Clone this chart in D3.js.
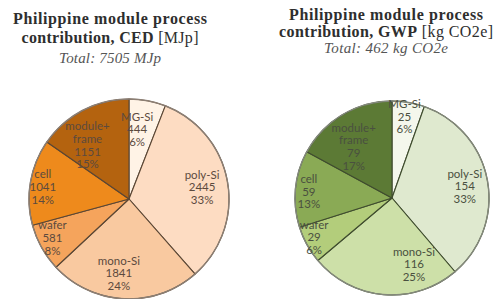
<!DOCTYPE html>
<html>
<head>
<meta charset="utf-8">
<script src="https://cdn.jsdelivr.net/npm/d3@7"></script>
<style>
  body { margin: 0; background: #fff; }
  svg { display: block; }
</style>
</head>
<body>
<svg id="canvas"></svg>
<script>
// process steps, clockwise from 12 o'clock
const processes = ["MG-Si", "poly-Si", "mono-Si", "wafer", "cell", "module+|frame"];

// cumulative energy demand [MJp]
const cedValues = [444, 2445, 1841, 581, 1041, 1151];
const cedShares = ["6%", "33%", "24%", "8%", "14%", "15%"];

// global warming potential [kg CO2e]
const gwpValues = [25, 154, 116, 29, 59, 79];
const gwpShares = ["6%", "33%", "25%", "6%", "13%", "17%"];

const width = 494;
const height = 299;

let canvas = d3.select("#canvas").attr("width", width).attr("height", height);

let charts = [
  {
    title: ["Philippine module process", "contribution, CED", " [MJp]"],
    total: "Total: 7505 MJp",
    titleX: 110, titleY: [24, 43, 63], titleW: [194, 177, 102],
    cx: 129, cy: 199, r: 100,
    values: cedValues, shares: cedShares,
    colors: ["#fff3e6", "#fddcc2", "#f9c9a0", "#f5a45c", "#ee8a1c", "#b4630f"],
    line: "#5a4634", rim: "#8c7f74", text: "#5c4a3e",
    // [radius fraction, angle nudge in degrees] for each label
    labelPos: [[0.70, -4], [0.74, 1], [0.75, 5], [0.86, 2], [0.87, -2], [0.68, -10]]
  },
  {
    title: ["Philippine module process", "contribution, GWP", " [kg CO2e]"],
    total: "Total: 462 kg CO2e",
    titleX: 386, titleY: [19.5, 36.5, 53], titleW: [194, 214, 124],
    cx: 392, cy: 198, r: 97,
    values: gwpValues, shares: gwpShares,
    colors: ["#f4f7ec", "#dfe9cf", "#cde0a8", "#b3cd7b", "#8aaa55", "#5c7a35"],
    line: "#3f4c2e", rim: "#84897c", text: "#4a5040",
    labelPos: [[0.85, -1], [0.76, 1.5], [0.72, -23], [0.90, 2], [0.86, -1], [0.66, -6]]
  }
];

let serif = "'Liberation Serif', 'DejaVu Serif', serif";

let drawPie = (c) => {
  let g = canvas.append("g").attr("transform", "translate(" + c.cx + "," + c.cy + ")");

  let pie = d3.pie().sort(null).value((d) => d);
  let slices = pie(c.values);
  let arc = d3.arc().innerRadius(0).outerRadius(c.r);

  g.selectAll("path.slice")
    .data(slices)
    .enter()
    .append("path")
    .attr("class", "slice")
    .attr("d", arc)
    .attr("fill", (d, i) => c.colors[i])
    .attr("stroke", c.line)
    .attr("stroke-width", 1.1)
    .attr("stroke-linejoin", "round");

  g.append("circle")
    .attr("r", c.r)
    .attr("fill", "none")
    .attr("stroke", c.rim)
    .attr("stroke-width", 1.4);

  let labels = g.selectAll("text.lab")
    .data(slices)
    .enter()
    .append("text")
    .attr("class", "lab")
    .attr("text-anchor", "middle")
    .attr("font-family", "Lato, 'Open Sans', sans-serif")
    .attr("font-size", "11.5px")
    .attr("fill", c.text)
    .attr("transform", (d, i) => {
      let pos = c.labelPos[i];
      let a = (d.startAngle + d.endAngle) / 2 + pos[1] * Math.PI / 180;
      let rr = c.r * pos[0];
      return "translate(" + (Math.sin(a) * rr) + "," + (-Math.cos(a) * rr) + ")";
    });

  labels.each(function (d, i) {
    let lines = processes[i].split("|").concat([String(c.values[i]), c.shares[i]]);
    let step = 12.8;
    let start = -((lines.length - 1) * step) / 2 + 4;
    let t = d3.select(this);
    lines.forEach((ln, k) => {
      t.append("tspan").attr("x", 0).attr("y", start + k * step).text(ln);
    });
  });

  // title, three lines
  canvas.append("text")
    .attr("x", c.titleX).attr("y", c.titleY[0])
    .attr("text-anchor", "middle")
    .attr("font-family", serif)
    .attr("font-size", "16px")
    .attr("font-weight", "bold")
    .attr("fill", "#2e2e2e")
    .attr("textLength", c.titleW[0])
    .attr("lengthAdjust", "spacing")
    .text(c.title[0]);

  let l2 = canvas.append("text")
    .attr("x", c.titleX).attr("y", c.titleY[1])
    .attr("text-anchor", "middle")
    .attr("font-family", serif)
    .attr("font-size", "16px")
    .attr("fill", "#2e2e2e")
    .attr("textLength", c.titleW[1])
    .attr("lengthAdjust", "spacing");
  l2.append("tspan").attr("font-weight", "bold").text(c.title[1]);
  l2.append("tspan").text(c.title[2]);

  canvas.append("text")
    .attr("x", c.titleX).attr("y", c.titleY[2])
    .attr("text-anchor", "middle")
    .attr("font-family", serif)
    .attr("font-style", "italic")
    .attr("font-size", "15px")
    .attr("fill", "#555")
    .attr("textLength", c.titleW[2])
    .attr("lengthAdjust", "spacing")
    .text(c.total);
};

charts.forEach(drawPie);
</script>
</body>
</html>
